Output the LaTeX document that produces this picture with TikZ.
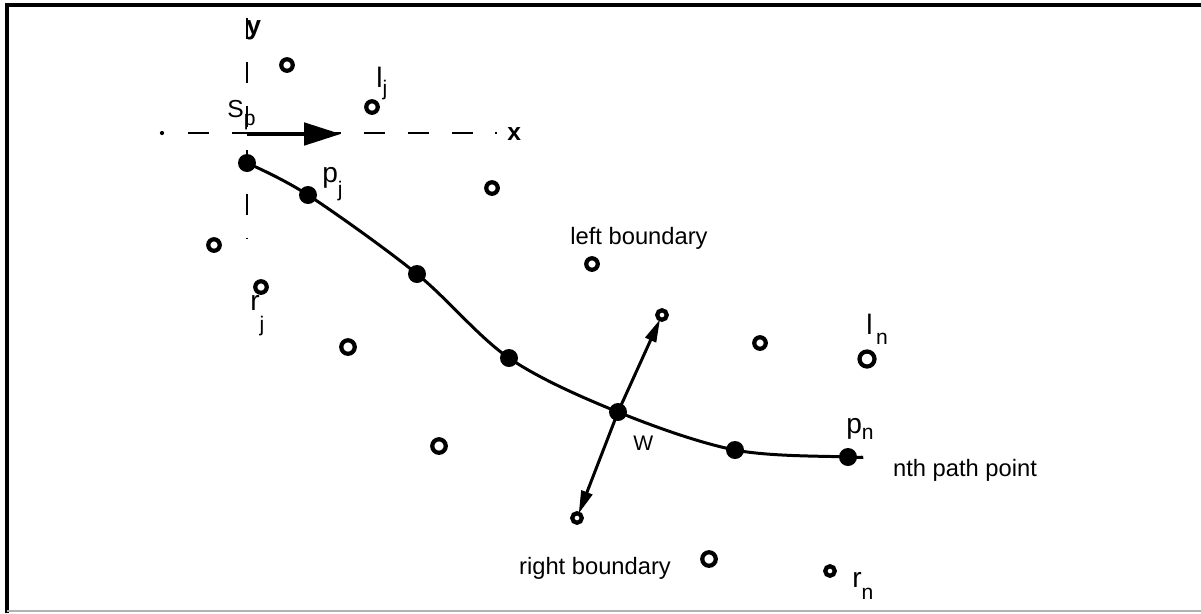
\documentclass[tikz,border=0pt]{standalone}
\usepackage{fontspec}
\setmainfont{Liberation Sans}
\usetikzlibrary{arrows.meta}
\newcommand{\lbl}[3]{#1\raisebox{-#3}{\fontsize{12}{12}\selectfont #2}}
\begin{document}
\begin{tikzpicture}[x=0.02cm,y=-0.02cm,
  hole/.style={circle,draw,line width=2.4pt,minimum size=0.23cm,inner sep=0pt,outer sep=0pt},
  smallhole/.style={hole,minimum size=0.19cm},
  dot/.style={circle,fill,minimum size=0.36cm,inner sep=0pt},
  lab/.style={anchor=base west,inner sep=0pt,font=\fontsize{16}{16}\selectfont},
  note/.style={inner sep=0pt,font=\fontsize{13.5}{13.5}\selectfont},
  axis/.style={line width=1.4pt,dash pattern=on 12pt off 13pt},
  curve/.style={line width=1.7pt},
  bdy/.style={line width=1.7pt,-{Triangle[length=13pt,width=6.5pt]}},
  heading/.style={line width=2.8pt,-{Triangle[length=21pt,width=12.5pt]}}]
\useasboundingbox (0,0) rectangle (1201,613);
% frame
\draw[line width=1.8pt] (7,613) -- (7,5) -- (1201,5);
\draw[line width=1.2pt,gray!60] (7,611) -- (1201,611);
% axes
\coordinate (ytop) at (247,18);
\coordinate (ybot) at (247,238);
\coordinate (xl) at (188,133);
\coordinate (xr) at (497,133);
\coordinate (o) at (247,134);
\coordinate (xa) at (341,134);
\draw[axis] (ytop) -- (ybot);
\draw[axis] (xl) -- (xr);
\fill (162,133) circle (1.2pt);
\node[lab,font=\fontsize{15}{15}\selectfont\bfseries] (ylab) at (246,34) {y};
\node[lab,font=\fontsize{14}{14}\selectfont\bfseries] (xlab) at (507,140) {x};
\draw[heading] (o) -- (xa);
% path points
\node[dot] (d1) at (247,163) {};
\node[dot] (d2) at (308,195) {};
\node[dot] (d3) at (417,274) {};
\node[dot] (d4) at (509,358) {};
\node[dot] (w) at (618,412) {};
\node[dot] (d6) at (735,450) {};
\node[dot] (pn) at (848,457) {};
\coordinate (pend) at (861,457);
\draw[curve] plot[smooth,tension=0.55] coordinates {(d1.center) (d2.center) (d3.center) (d4.center) (w.center) (d6.center) (pn.center) (pend)};
% boundary points
\node[hole] (c1) at (287,65) {};
\node[hole] (c2) at (372,107) {};
\node[hole] (c3) at (492,188) {};
\node[hole] (c4) at (214,245) {};
\node[hole] (rj) at (261,287) {};
\node[hole,minimum width=0.27cm] (c6) at (348,347) {};
\node[hole] (c7) at (592,264) {};
\node[smallhole] (lb) at (662,315) {};
\node[hole] (c9) at (760,343) {};
\node[hole,minimum width=0.3cm,minimum height=0.19cm] (ln) at (867,359) {};
\node[hole,minimum width=0.27cm] (c11) at (439,446) {};
\node[smallhole] (rb) at (577,518) {};
\node[hole,minimum size=0.27cm] (c13) at (709,559) {};
\node[smallhole] (rn) at (830,571) {};
\draw[bdy] (w.center) -- (lb);
\draw[bdy] (w.center) -- (rb);
% labels
\node[lab,font=\fontsize{14}{14}\selectfont] (sp) at (227,117) {S\raisebox{-5pt}{\fontsize{12}{12}\selectfont p}};
\node[lab] (lj) at (376,87) {\lbl{l}{j}{5pt}};
\node[lab] (pj) at (322,182) {\lbl{p}{j}{8pt}};
\node[lab] (rjl) at (250,310) {\lbl{r}{j}{12pt}};
\node[lab] (lnl) at (866,334) {\lbl{l\kern2pt}{n}{6pt}};
\node[lab] (pnl) at (846,433) {\lbl{p}{n}{3.5pt}};
\node[lab] (rnl) at (852,587) {\lbl{r}{n}{7pt}};
\node[lab,font=\fontsize{12}{12}\selectfont] (wl) at (633,450) {W};
\node[note] (lbt) at (639,238) {left boundary};
\node[note] (rbt) at (595,568) {right boundary};
\node[note] (npt) at (965,470) {nth path point};
\end{tikzpicture}
\end{document}
